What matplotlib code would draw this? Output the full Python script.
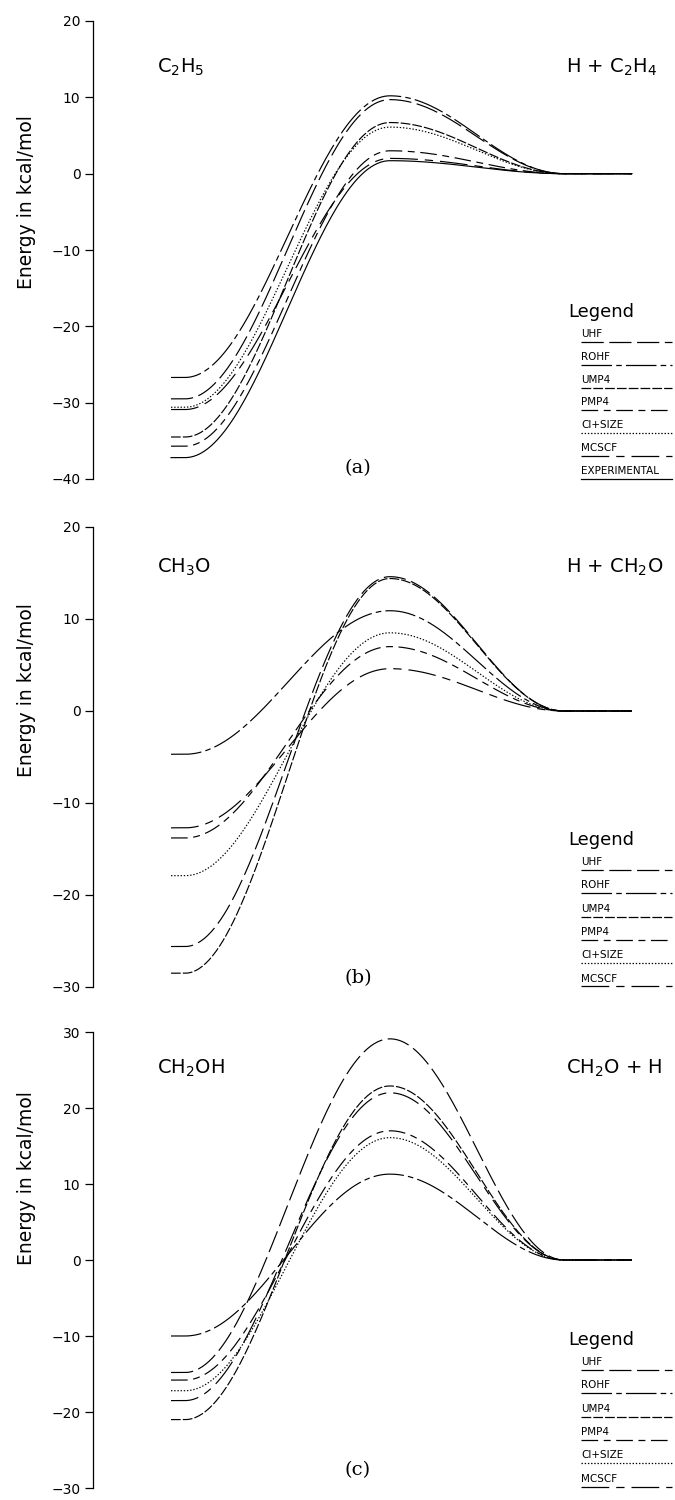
import matplotlib
matplotlib.use("Agg")
import matplotlib.pyplot as plt
from matplotlib.lines import Line2D
import numpy as np

plt.rcParams['lines.scale_dashes'] = False

# ---------------- data (kcal/mol) ----------------
methods_a = ["UHF", "ROHF", "UMP4", "PMP4", "CI+SIZE", "MCSCF", "EXPERIMENTAL"]
reactant_a = [-29.5, -26.7, -34.5, -35.7, -30.6, -30.9, -37.2]
ts_a = [9.7, 10.2, 6.7, 3.0, 6.1, 2.0, 1.7]

methods_b = ["UHF", "ROHF", "UMP4", "PMP4", "CI+SIZE", "MCSCF"]
reactant_b = [-25.6, -4.7, -28.5, -13.8, -17.9, -12.7]
ts_b = [14.6, 10.9, 14.4, 7.0, 8.5, 4.6]

methods_c = ["UHF", "ROHF", "UMP4", "PMP4", "CI+SIZE", "MCSCF"]
reactant_c = [-14.8, -10.0, -21.0, -15.8, -17.2, -18.5]
ts_c = [29.1, 11.3, 22.9, 17.0, 16.1, 22.0]

yticks_a = [20, 10, 0, -10, -20, -30, -40]
yticks_b = [20, 10, 0, -10, -20, -30]
yticks_c = [30, 20, 10, 0, -10, -20, -30]

species_a = (r"C$_2$H$_5$", r"H + C$_2$H$_4$")
species_b = (r"CH$_3$O", r"H + CH$_2$O")
species_c = (r"CH$_2$OH", r"CH$_2$O + H")

# ---------------- styles ----------------
styles = {
    "UHF": (0, (16, 4)),
    "ROHF": (0, (22, 3, 4, 3)),
    "UMP4": (0, (7, 1.5)),
    "PMP4": (0, (12, 4, 5, 4)),
    "CI+SIZE": (0, (1, 1.3)),
    "MCSCF": (0, (20, 5, 6, 5)),
    "EXPERIMENTAL": "-",
}

W, H = 675, 1500
fig = plt.figure(figsize=(W / 100, H / 100), dpi=100)

# reaction-coordinate layout (pixel based)
X_START, X_MIN, X_TS, X_PROD, X_END = 171, 185, 390, 564, 632
AX_L, AX_R = 93, 675
def xd(px):
    return (px - X_START) / (X_TS - X_START)

def profile(e_r, e_ts):
    s1 = np.linspace(0, 1, 120)
    s2 = np.linspace(0, 1, 120)
    x = np.concatenate([[xd(X_START)],
                        xd(X_MIN) + (xd(X_TS) - xd(X_MIN)) * s1,
                        xd(X_TS) + (xd(X_PROD) - xd(X_TS)) * s2,
                        [xd(X_END)]])
    y = np.concatenate([[e_r],
                        e_r + (e_ts - e_r) * (1 - np.cos(np.pi * s1)) / 2,
                        e_ts * (1 + np.cos(np.pi * s2)) / 2,
                        [0.0]])
    return x, y

panels = [
    dict(top=21, bot=479, yt=yticks_a, m=methods_a, r=reactant_a, t=ts_a,
         sp=species_a, sp_y=67, lab="(a)", lab_y=468, ylab_y=202,
         leg_y=312, leg_step=22.8),
    dict(top=527, bot=987, yt=yticks_b, m=methods_b, r=reactant_b, t=ts_b,
         sp=species_b, sp_y=567, lab="(b)", lab_y=978, ylab_y=690,
         leg_y=840, leg_step=23.3),
    dict(top=1032, bot=1488, yt=yticks_c, m=methods_c, r=reactant_c, t=ts_c,
         sp=species_c, sp_y=1068, lab="(c)", lab_y=1470, ylab_y=1178,
         leg_y=1340, leg_step=23.3),
]

for p in panels:
    ax = fig.add_axes([AX_L / W, 1 - p["bot"] / H, (AX_R - AX_L) / W,
                       (p["bot"] - p["top"]) / H])
    ax.set_xlim(xd(AX_L), xd(AX_R))
    ax.set_ylim(min(p["yt"]), max(p["yt"]))
    for side in ("top", "right", "bottom"):
        ax.spines[side].set_visible(False)
    ax.spines["left"].set_linewidth(0.9)
    ax.set_xticks([])
    ax.set_yticks(p["yt"])
    ax.set_yticklabels([str(v).replace("-", "\u2212") for v in p["yt"]])
    ax.tick_params(axis="y", direction="out", length=6, width=0.9, pad=3,
                   labelsize=10)
    for m, er, et in zip(p["m"], p["r"], p["t"]):
        x, y = profile(er, et)
        ax.plot(x, y, color="black", lw=0.85, linestyle=styles[m],
                clip_on=False)

    # species labels
    fig.text(157 / W, 1 - p["sp_y"] / H, p["sp"][0], fontsize=14,
             ha="left", va="center")
    fig.text(566 / W, 1 - p["sp_y"] / H, p["sp"][1], fontsize=14,
             ha="left", va="center")
    # panel letter
    fig.text(358 / W, 1 - p["lab_y"] / H, p["lab"], fontsize=14,
             family="DejaVu Serif", ha="center", va="center")
    # y label
    fig.text(27 / W, 1 - p["ylab_y"] / H, "Energy in kcal/mol", fontsize=13.5,
             rotation=90, ha="center", va="center")
    # legend
    fig.text(568 / W, 1 - p["leg_y"] / H, "Legend", fontsize=13,
             ha="left", va="center")
    for i, m in enumerate(p["m"]):
        ty = p["leg_y"] + 22 + i * p["leg_step"]
        fig.text(581 / W, 1 - ty / H, m, fontsize=7.5, ha="left", va="center")
        ly = 1 - (ty + 8) / H
        fig.add_artist(Line2D([581 / W, 672 / W], [ly, ly], color="black",
                              lw=0.9, linestyle=styles[m],
                              transform=fig.transFigure))

fig.savefig("out.png", dpi=100)
